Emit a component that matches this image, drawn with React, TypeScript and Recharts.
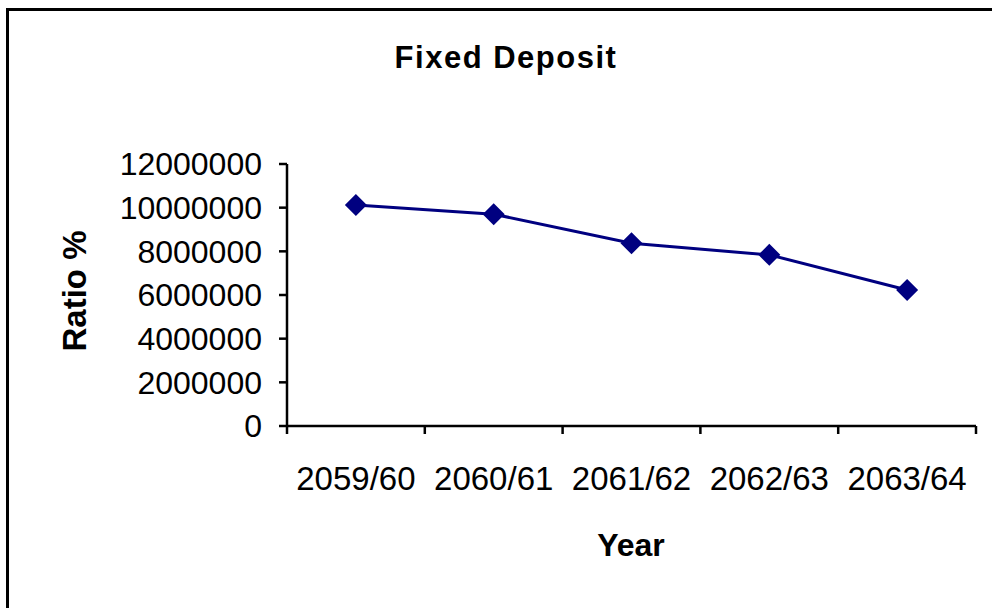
import { LineChart, Line, XAxis, YAxis } from "recharts";

// values
const years = ["2059/60", "2060/61", "2061/62", "2062/63", "2063/64"];
const fixedDeposit = [10120000, 9700000, 8370000, 7840000, 6230000];
const yTicks = [0, 2000000, 4000000, 6000000, 8000000, 10000000, 12000000];

const data = years.map((year, i) => ({ year, value: fixedDeposit[i] }));

// plot box in page pixels
const PLOT_LEFT = 287;
const PLOT_RIGHT = 976;
const PLOT_TOP = 164;
const PLOT_BOTTOM = 426;
const W = 992;
const H = 608;
const BAND = (PLOT_RIGHT - PLOT_LEFT) / years.length;

const NAVY = "#000080";
const FONT = "'Liberation Sans', Arial, sans-serif";

const Diamond = (props: any) => {
  const { cx, cy } = props;
  if (cx == null || cy == null) return null;
  const r = 11;
  return (
    <path
      d={`M${cx},${cy - r} L${cx + r},${cy} L${cx},${cy + r} L${cx - r},${cy} Z`}
      fill={NAVY}
    />
  );
};

// category label in the middle, tick marks on the band edges
const YearTick = (props: any) => {
  const { x, y, payload, index } = props;
  const half = BAND / 2;
  return (
    <g>
      <line x1={x - half} x2={x - half} y1={y} y2={y + 8} stroke="#000" strokeWidth={2.5} />
      {index === years.length - 1 && (
        <line x1={x + half} x2={x + half} y1={y} y2={y + 8} stroke="#000" strokeWidth={2.5} />
      )}
      <text x={x} y={y + 64} textAnchor="middle" fontSize={33} fontFamily={FONT} fill="#000">
        {payload.value}
      </text>
    </g>
  );
};

export default function App() {
  return (
    <div style={{ position: "relative", width: W, height: H, overflow: "hidden", background: "#fff" }}>
      <style>{`body{margin:0;overflow:hidden}`}</style>
      <div
        style={{
          position: "absolute",
          left: 6,
          top: 8,
          width: 1020,
          height: 700,
          border: "3px solid #000",
          boxSizing: "border-box",
        }}
      />
      <div style={{ position: "absolute", left: 0, top: 0 }}>
        <LineChart
          width={W}
          height={H}
          data={data}
          margin={{ top: PLOT_TOP, right: W - PLOT_RIGHT, left: 0, bottom: 0 }}
        >
          <XAxis
            dataKey="year"
            scale="band"
            interval={0}
            height={H - PLOT_BOTTOM}
            tickLine={false}
            tickSize={0}
            tickMargin={0}
            axisLine={{ stroke: "#000", strokeWidth: 2.5 }}
            tick={<YearTick />}
          />
          <YAxis
            width={PLOT_LEFT}
            domain={[0, 12000000]}
            ticks={yTicks}
            interval={0}
            tickSize={8}
            tickMargin={17}
            axisLine={{ stroke: "#000", strokeWidth: 2.5 }}
            tickLine={{ stroke: "#000", strokeWidth: 2.5 }}
            tick={{ fontSize: 32, fontFamily: FONT, fill: "#000" }}
          />
          <Line
            type="linear"
            dataKey="value"
            stroke={NAVY}
            strokeWidth={3}
            dot={<Diamond />}
            activeDot={false}
            isAnimationActive={false}
          />
        </LineChart>
      </div>
      <svg
        width={W}
        height={H}
        style={{ position: "absolute", left: 0, top: 0, pointerEvents: "none" }}
      >
        <text x={506} y={68} textAnchor="middle" fontSize={31} fontWeight="bold" letterSpacing={1.5} fontFamily={FONT}>
          Fixed Deposit
        </text>
        <text x={631} y={556} textAnchor="middle" fontSize={32} fontWeight="bold" fontFamily={FONT}>
          Year
        </text>
        <text
          x={86}
          y={291}
          textAnchor="middle"
          fontSize={33}
          fontWeight="bold"
          fontFamily={FONT}
          transform="rotate(-90 86 291)"
        >
          Ratio %
        </text>
      </svg>
    </div>
  );
}
